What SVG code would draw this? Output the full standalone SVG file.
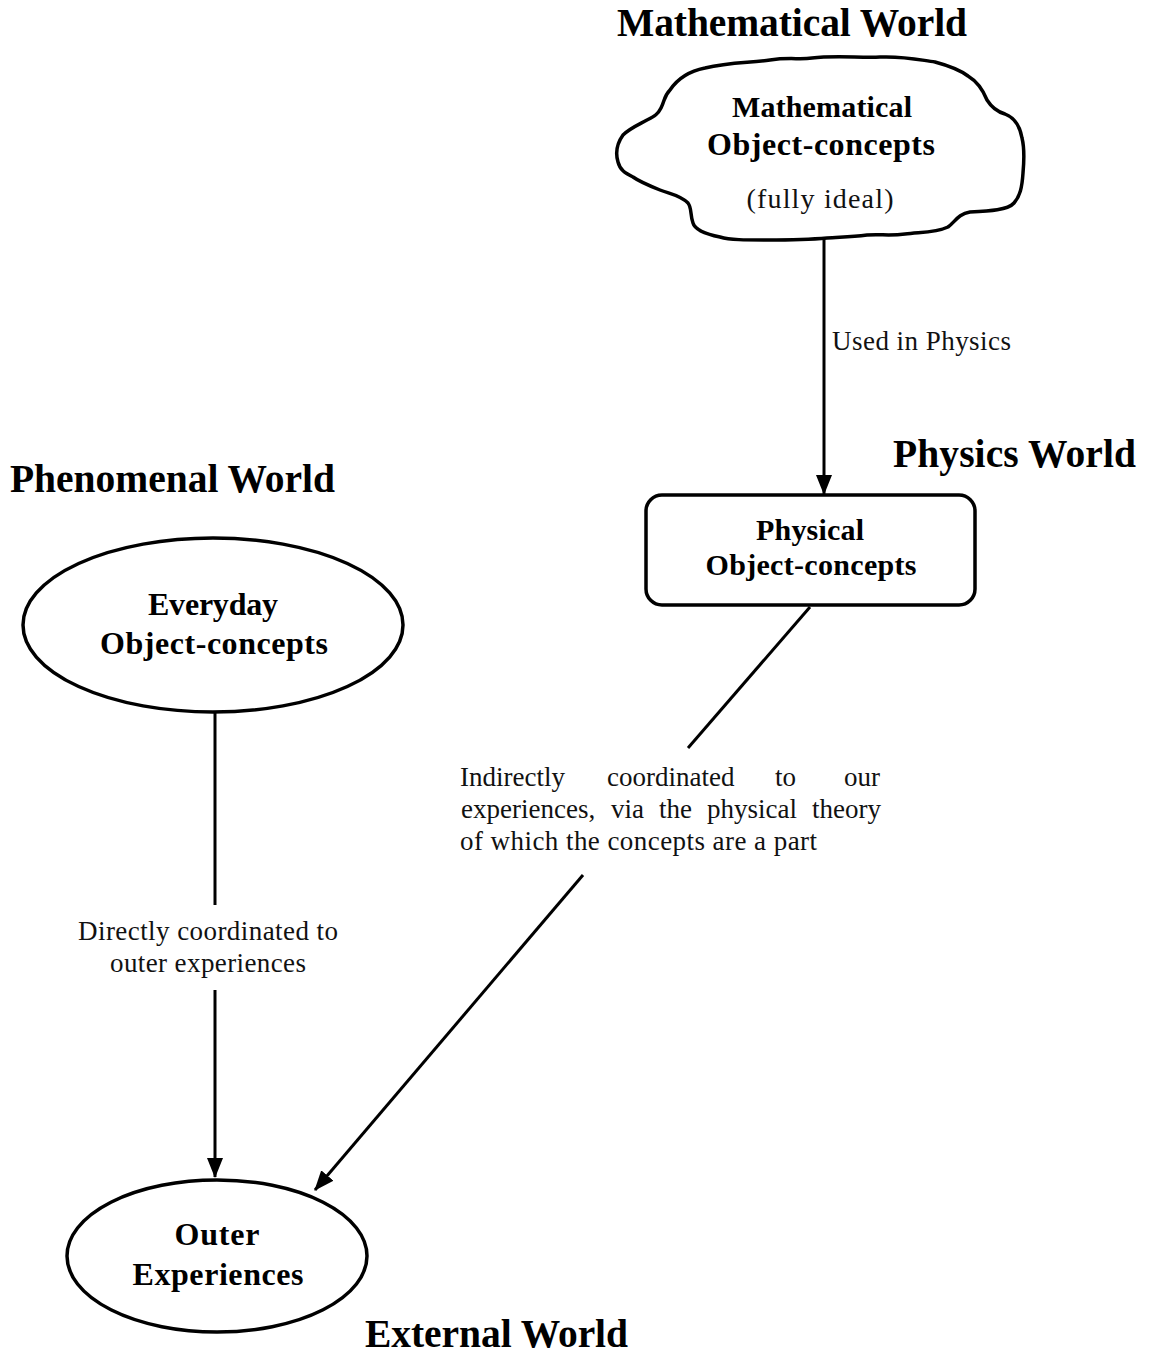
<svg xmlns="http://www.w3.org/2000/svg" width="1149" height="1354" viewBox="0 0 1149 1354">
<style>
.title{font-family:"Liberation Serif",serif;font-weight:bold;font-size:39.5px;fill:#000}
.node{font-family:"Liberation Serif",serif;font-weight:bold;font-size:32px;fill:#000;text-anchor:middle}
.lbl{font-family:"Liberation Serif",serif;font-size:27px;fill:#111}
.shape{fill:#fff;stroke:#000;stroke-width:3.5}
.edge{stroke:#000;stroke-width:3;fill:none}
</style>
<defs>
<marker id="arr" viewBox="0 0 20 16" refX="19" refY="8" markerWidth="20" markerHeight="16" markerUnits="userSpaceOnUse" orient="auto">
<path d="M0,0 L20,8 L0,16 Z" fill="#000"/>
</marker>
</defs>
<rect width="1149" height="1354" fill="#fff"/>
<g id="titles">
<text class="title" x="617" y="36" textLength="350" lengthAdjust="spacing">Mathematical World</text>
<text class="title" x="893" y="467" textLength="243" lengthAdjust="spacing">Physics World</text>
<text class="title" x="10" y="492" textLength="325" lengthAdjust="spacing">Phenomenal World</text>
<text class="title" x="365" y="1347" textLength="263" lengthAdjust="spacing">External World</text>
</g>
<g id="connectors">
<line class="edge" x1="824" y1="238" x2="824" y2="494" marker-end="url(#arr)"/>
<text class="lbl" x="832" y="350" textLength="179" lengthAdjust="spacing">Used in Physics</text>
<line class="edge" x1="215" y1="712" x2="215" y2="905"/>
<line class="edge" x1="215" y1="990" x2="215" y2="1177" marker-end="url(#arr)"/>
<text class="lbl" x="78" y="940" textLength="260" lengthAdjust="spacing">Directly coordinated to</text>
<text class="lbl" x="110" y="972" textLength="196" lengthAdjust="spacing">outer experiences</text>
<line class="edge" x1="810" y1="607" x2="688" y2="748"/>
<line class="edge" x1="583" y1="875" x2="315" y2="1190" marker-end="url(#arr)"/>
<text class="lbl" y="786"><tspan x="460">Indirectly</tspan><tspan x="607">coordinated</tspan><tspan x="775">to</tspan><tspan x="880" text-anchor="end">our</tspan></text>
<text class="lbl" y="818"><tspan x="461">experiences,</tspan><tspan x="611">via</tspan><tspan x="659">the</tspan><tspan x="707">physical</tspan><tspan x="881" text-anchor="end">theory</tspan></text>
<text class="lbl" x="460" y="850" textLength="357" lengthAdjust="spacing">of which the concepts are a part</text>
</g>
<g id="math-node">
<path class="shape" d="M670,90 C680,75 695,70 705,68 C730,62 750,63 770,60 C790,57 800,60 812,58 C835,55 860,58 880,57 C905,56 920,60 935,62 C950,66 960,70 968,76 C978,82 983,90 987,100 C992,108 998,112 1005,114 C1015,118 1020,126 1022,138 C1025,150 1024,162 1023,173 C1022,188 1020,196 1014,203 C1008,210 990,211 970,212 C958,214 955,222 948,227 C935,233 920,232 905,234 C890,236 880,234 867,235 C850,237 840,237 827,238 C805,240 785,240 767,240 C745,240 730,240 720,237 C705,234 695,230 693,223 C690,215 692,208 688,203 C680,195 670,194 660,190 C650,186 640,182 633,177 C625,173 620,170 618,162 C615,152 618,142 623,135 C630,128 640,124 647,120 C655,116 658,114 661,108 C665,100 664,96 670,90 Z"/>
<text class="node" x="822" y="117" style="font-size:30px" textLength="180" lengthAdjust="spacing">Mathematical</text>
<text class="node" x="821" y="155" textLength="228" lengthAdjust="spacing">Object-concepts</text>
<text class="lbl" x="820" y="208" text-anchor="middle" style="font-size:28px" textLength="147" lengthAdjust="spacing">(fully ideal)</text>
</g>
<g id="physical-node">
<rect class="shape" x="646" y="495" width="329" height="110" rx="16"/>
<text class="node" x="810" y="540" style="font-size:30px" textLength="108" lengthAdjust="spacing">Physical</text>
<text class="node" x="811" y="575" style="font-size:30px" textLength="211" lengthAdjust="spacing">Object-concepts</text>
</g>
<g id="everyday-node">
<ellipse class="shape" cx="213" cy="625" rx="190" ry="87"/>
<text class="node" x="213" y="615" textLength="130" lengthAdjust="spacing">Everyday</text>
<text class="node" x="214" y="654" textLength="228" lengthAdjust="spacing">Object-concepts</text>
</g>
<g id="outer-node">
<ellipse class="shape" cx="217" cy="1256" rx="150" ry="76"/>
<text class="node" x="217" y="1245" textLength="85" lengthAdjust="spacing">Outer</text>
<text class="node" x="218" y="1285" textLength="171" lengthAdjust="spacing">Experiences</text>
</g>
</svg>
